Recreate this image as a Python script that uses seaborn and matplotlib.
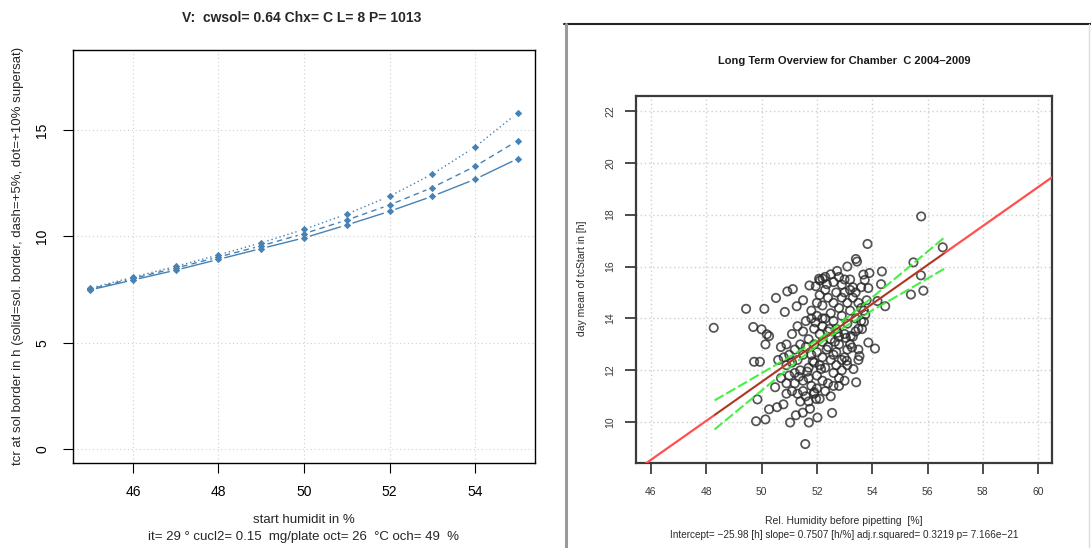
import numpy as np
import pandas as pd
import matplotlib
matplotlib.use("Agg")
import matplotlib.pyplot as plt
from matplotlib.lines import Line2D
import seaborn as sns

# ---- left panel: crossing time versus start humidity ----
humidity = [45, 46, 47, 48, 49, 50, 51, 52, 53, 54, 55]
tcr_border = [7.48, 7.95, 8.41, 8.92, 9.43, 9.93, 10.54, 11.18, 11.89, 12.69, 13.66]
tcr_plus5 = [7.52, 8.02, 8.51, 9.03, 9.56, 10.13, 10.77, 11.48, 12.30, 13.30, 14.51]
tcr_plus10 = [7.56, 8.08, 8.59, 9.13, 9.70, 10.33, 11.05, 11.89, 12.93, 14.21, 15.82]
series_names = ["solid", "dash", "dot"]

# ---- right panel: long term overview, chamber C ----
rel_humidity = [
    55.77, 56.55, 53.83, 53.41, 53.45, 53.10, 52.73, 54.35, 55.49, 55.76,
    55.85, 55.40, 54.47, 54.32, 52.11, 51.96, 51.73, 51.13, 50.93, 50.52,
    51.27, 50.84, 50.10, 49.44, 48.27, 49.70, 50.00, 50.19, 50.27, 50.14,
    49.73, 49.94, 50.49, 49.85, 50.27, 50.56, 50.79, 49.80, 50.14, 51.03,
    51.24, 51.49, 51.75, 51.71, 52.02, 52.55, 51.58, 51.97, 51.90, 53.42,
    53.32, 53.54, 53.86, 54.10, 53.08, 53.27, 53.22, 53.68, 53.90, 53.73,
    53.86, 52.36, 52.21, 52.08, 54.19, 53.63, 53.70, 53.75,
    52.20, 52.40, 52.60, 52.50, 52.80, 52.90, 53.00, 53.10, 53.20, 53.30,
    53.40, 53.50, 53.60, 53.20, 52.70, 52.30, 52.10, 52.00, 52.30, 52.60,
    52.90, 53.10, 53.40, 53.70, 53.50, 53.80, 52.20, 52.40, 52.70, 53.00,
    53.30, 52.10, 51.90, 51.70, 51.50, 51.30, 51.60, 51.80, 52.50, 52.80,
    53.10, 53.00, 52.70, 52.40, 52.20, 51.90, 51.60, 51.40, 51.20, 51.00,
    50.80, 50.60, 50.90, 51.10, 51.30, 51.50, 51.80, 52.00, 52.20, 52.50,
    52.70, 52.90, 52.60, 52.30, 52.10, 51.90, 51.70, 51.40, 51.20, 51.00,
    50.70, 50.90, 51.20, 51.50, 51.70, 52.00, 52.20, 52.40, 52.60, 52.30,
    52.00, 51.80, 51.50, 51.30, 51.10, 51.60, 51.90, 52.10, 50.90, 51.40,
    51.70, 51.50, 51.80, 52.00, 52.30, 52.50, 52.60, 52.80, 52.90, 53.00,
    53.20, 53.30, 53.60, 52.20, 51.95, 53.60, 53.40, 52.80, 53.20, 53.50,
    52.60, 53.10, 53.50, 52.80, 53.00, 52.50, 52.80, 52.90, 50.90, 51.10,
    50.70, 52.45, 52.65, 52.35, 51.85, 52.75, 53.05, 52.15, 51.65, 51.35,
]
tc_start = [
    17.93, 16.74, 16.87, 16.29, 16.19, 16.00, 15.83, 15.81, 16.16, 15.66,
    15.07, 14.92, 14.47, 15.32, 15.46, 15.24, 15.27, 15.13, 15.04, 14.79,
    14.47, 14.25, 14.37, 14.37, 13.64, 13.67, 13.58, 13.39, 13.32, 13.00,
    12.33, 12.33, 11.35, 10.88, 10.50, 10.58, 10.69, 10.04, 10.11, 9.99,
    10.27, 10.37, 10.52, 9.99, 10.18, 10.36, 9.16, 10.90, 11.16, 11.54,
    12.05, 12.55, 13.07, 12.84, 12.37, 12.88, 13.32, 15.69, 15.75, 15.48,
    15.17, 15.32, 15.53, 15.53, 14.67, 13.59, 13.87, 14.15,
    14.50, 14.80, 14.60, 14.20, 14.40, 14.80, 15.00, 14.60, 15.10, 14.80,
    15.00, 14.60, 14.40, 14.30, 15.00, 15.10, 14.90, 14.10, 14.00, 13.90,
    14.10, 13.80, 14.00, 14.30, 13.60, 14.70, 13.70, 13.50, 13.60, 13.40,
    13.30, 13.40, 13.60, 13.20, 13.50, 13.70, 13.90, 14.00, 13.20, 13.00,
    12.80, 12.50, 12.70, 12.90, 13.10, 13.00, 12.90, 13.00, 12.80, 12.60,
    12.50, 12.40, 12.20, 12.30, 12.40, 12.60, 12.60, 12.70, 12.50, 12.40,
    12.20, 12.00, 11.90, 12.10, 12.20, 12.30, 12.10, 12.00, 11.90, 11.80,
    11.70, 11.50, 11.50, 11.60, 11.70, 11.80, 11.60, 11.50, 11.40, 11.20,
    11.30, 11.40, 11.20, 11.10, 11.20, 11.00, 11.10, 10.90, 11.10, 10.80,
    10.80, 14.70, 14.30, 14.60, 15.60, 15.70, 15.40, 15.60, 15.30, 15.50,
    15.50, 15.20, 15.20, 14.00, 13.85, 13.90, 13.50, 13.30, 13.00, 12.80,
    12.60, 12.20, 12.40, 11.70, 11.60, 11.00, 11.40, 12.40, 13.00, 13.40,
    12.90, 13.60, 13.10, 12.80, 12.35, 13.45, 13.25, 12.05, 11.95, 11.75,
]

# fitted regression reported in the subtitle
intercept = -25.98
slope = 0.7507

# 95% band of the fitted line, evaluated over the observed humidity range
band_x = [48.3, 49.5, 50.5, 51.5, 52.3, 53.0, 54.0, 55.0, 56.6]
band_upper = [10.84, 11.58, 12.20, 12.83, 13.38, 13.95, 14.81, 15.69, 17.11]
band_lower = [9.72, 10.78, 11.66, 12.53, 13.18, 13.67, 14.31, 14.92, 15.91]

sns.set_theme(style="white")
plt.rcParams["font.family"] = ["Liberation Sans", "DejaVu Sans"]

W, H = 1091, 548
fig = plt.figure(figsize=(W / 100, H / 100), dpi=100)


def fx(px):
    return px / W


def fy(py):
    return 1 - py / H


def r_style_axes(ax, edge, tick_len, label_size, pad_x, pad_y, lw):
    ax.tick_params(axis="both", which="both", direction="out", bottom=True, left=True,
                   length=tick_len, width=lw * 0.8, color=edge, labelcolor=edge,
                   labelsize=label_size)
    ax.tick_params(axis="x", pad=pad_x)
    ax.tick_params(axis="y", pad=pad_y)
    for lab in ax.get_yticklabels():
        lab.set_rotation(90)
        lab.set_va("center")
        lab.set_ha("right")
    for sp in ax.spines.values():
        sp.set_visible(True)
        sp.set_color(edge)
        sp.set_linewidth(lw)
    ax.set_xlabel("")
    ax.set_ylabel("")


def gapped_segments(ax, xs, ys, gap_px):
    """Connect consecutive points with segments stopped short of each point."""
    pts = ax.transData.transform(np.column_stack([xs, ys]))
    inv = ax.transData.inverted()
    segs = []
    for p0, p1 in zip(pts[:-1], pts[1:]):
        d = p1 - p0
        length = np.hypot(*d)
        if length <= 2 * gap_px:
            continue
        u = d / length
        a = inv.transform(p0 + u * gap_px)
        b = inv.transform(p1 - u * gap_px)
        segs.append((a, b))
    return segs


# ================= left panel =================
ax1 = fig.add_axes([fx(73), fy(463), fx(535) - fx(73), fy(50) - fy(463)])
ax1.set_xlim(44.6, 55.4)
ax1.set_ylim(-0.66, 18.77)
left_df = pd.DataFrame({
    "humidity": humidity * 3,
    "tcr": tcr_border + tcr_plus5 + tcr_plus10,
    "series": [s for s in series_names for _ in humidity],
})
blue = "#4682b4"
xt1 = [46, 48, 50, 52, 54]
yt1 = [0, 5, 10, 15]
for v in xt1:
    ax1.axvline(v, color="#d0d0d0", lw=0.8, ls=(0, (1, 2.5)), zorder=1)
for v in yt1:
    ax1.axhline(v, color="#d0d0d0", lw=0.8, ls=(0, (1, 2.5)), zorder=1)

line_styles = {"solid": "-", "dash": (0, (4, 3)), "dot": (0, (1, 2))}
for name in series_names:
    sub = left_df[left_df["series"] == name]
    for a, b in gapped_segments(ax1, sub["humidity"].to_numpy(), sub["tcr"].to_numpy(), 6.5):
        ax1.plot([a[0], b[0]], [a[1], b[1]], color=blue, lw=1.0, ls=line_styles[name],
                 zorder=2)
sns.scatterplot(data=left_df, x="humidity", y="tcr", color=blue, marker="D", s=10,
                edgecolor=blue, linewidth=0.6, legend=False, ax=ax1, zorder=5)
ax1.set_xlim(44.6, 55.4)
ax1.set_ylim(-0.66, 18.77)
ax1.set_xticks(xt1)
ax1.set_yticks(yt1)
r_style_axes(ax1, "black", 7, 10, 9, 10, 1.0)

fig.text(fx(302), fy(18), "V:  cwsol= 0.64 Chx= C L= 8 P= 1013", ha="center", va="center",
         fontsize=10, fontweight="bold")
fig.text(fx(304), fy(520), "start humidit in %", ha="center", va="center", fontsize=9.5)
fig.text(fx(304), fy(537), "it= 29 \u00b0 cucl2= 0.15  mg/plate oct= 26  \u00b0C och= 49  %",
         ha="center", va="center", fontsize=9.5)
fig.text(fx(18), fy(256),
         "tcr at sol border in h (solid=sol. border, dash=+5%, dot=+10% supersat)",
         ha="center", va="center", rotation=90, fontsize=9.5)

# ================= right panel =================
frame_kw = dict(transform=fig.transFigure)
fig.add_artist(Line2D([fx(564), fx(1091)], [fy(24), fy(24)], color="#222222", lw=1.5, **frame_kw))
fig.add_artist(Line2D([fx(565.5), fx(565.5)], [fy(24), fy(548)], color="#9a9a9a", lw=2.2, **frame_kw))
fig.add_artist(Line2D([fx(1089), fx(1089)], [fy(24), fy(548)], color="#dddddd", lw=1.0, **frame_kw))

ax2 = fig.add_axes([fx(636), fy(463), fx(1052) - fx(636), fy(96) - fy(463)])
ax2.set_xlim(45.46, 60.5)
ax2.set_ylim(8.43, 22.57)
xt2 = [46, 48, 50, 52, 54, 56, 58, 60]
yt2 = [10, 12, 14, 16, 18, 20, 22]
for v in xt2:
    ax2.axvline(v, color="#cfcfcf", lw=1.0, ls=(0, (1, 2)), zorder=1)
for v in yt2:
    ax2.axhline(v, color="#cfcfcf", lw=1.0, ls=(0, (1, 2)), zorder=1)

right_df = pd.DataFrame({"rel_humidity": rel_humidity, "tc_start": tc_start})
sns.scatterplot(data=right_df, x="rel_humidity", y="tc_start", marker="o", s=36,
                facecolor="none", edgecolor="#2a2a2a", linewidth=1.25, alpha=0.8,
                legend=False, ax=ax2, zorder=3)

fit_x = [45.46, 60.5]
fit_df = pd.DataFrame({"x": fit_x, "y": [intercept + slope * v for v in fit_x]})
sns.lineplot(data=fit_df, x="x", y="y", color="#ff5050", linewidth=1.6, ax=ax2, zorder=4)
obs_x = [48.3, 56.6]
obs_df = pd.DataFrame({"x": obs_x, "y": [intercept + slope * v for v in obs_x]})
sns.lineplot(data=obs_df, x="x", y="y", color="#8a4020", linewidth=1.0, ax=ax2, zorder=5)

band_df = pd.DataFrame({
    "x": band_x * 2,
    "y": band_upper + band_lower,
    "bound": ["upper"] * len(band_x) + ["lower"] * len(band_x),
})
sns.lineplot(data=band_df, x="x", y="y", units="bound", estimator=None,
             color="#33ee33", linewidth=1.5, dashes=False, ax=ax2, zorder=5)
for ln in ax2.get_lines()[-2:]:
    ln.set_linestyle((0, (5, 1.5)))
    ln.set_alpha(0.9)

ax2.set_xticks(xt2)
ax2.set_yticks(yt2)
r_style_axes(ax2, "#3a3a3a", 8, 7.5, 9, 7, 1.6)
ax2.set_xlabel("")
ax2.set_ylabel("")

fig.text(fx(844), fy(61), "Long Term Overview for Chamber  C 2004\u20132009", ha="center",
         va="center", fontsize=8, fontweight="bold", color="#1a1a1a")
fig.text(fx(844), fy(521), "Rel. Humidity before pipetting  [%]", ha="center", va="center",
         fontsize=7.5, color="#2a2a2a")
fig.text(fx(844), fy(535),
         "Intercept= \u221225.98 [h] slope= 0.7507 [h/%] adj.r.squared= 0.3219 p= 7.166e\u221221",
         ha="center", va="center", fontsize=7.2, color="#2a2a2a")
fig.text(fx(582), fy(278), "day mean of tcStart in [h]", ha="center", va="center",
         rotation=90, fontsize=7.5, color="#2a2a2a")

fig.savefig("out.png", dpi=100)
